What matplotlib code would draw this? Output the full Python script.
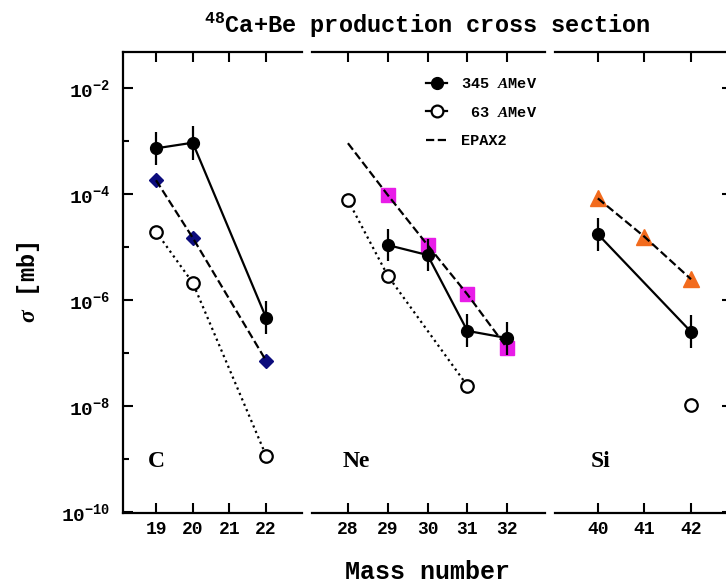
import numpy as np
import matplotlib.pyplot as plt
from matplotlib.lines import Line2D
from matplotlib.ticker import FixedLocator, NullLocator, NullFormatter

plt.rcParams['font.family'] = ['Liberation Mono', 'DejaVu Sans']
plt.rcParams['font.weight'] = 'bold'
plt.rcParams['mathtext.fontset'] = 'custom'
plt.rcParams['mathtext.rm'] = 'Liberation Mono:bold'
plt.rcParams['mathtext.bf'] = 'Liberation Mono:bold'
plt.rcParams['mathtext.it'] = 'Liberation Serif:italic:bold'
plt.rcParams['mathtext.default'] = 'bf'

# --- data (cross sections in mb) ---
# C isotopes
c_mass_345 = [19, 20, 22]
c_345 = [7.2e-4, 9.2e-4, 4.6e-7]
c_345_err = [0.31, 0.32, 0.31]          # error bar half-length in decades
c_mass_63 = [19, 20, 22]
c_63 = [1.93e-5, 2.1e-6, 1.15e-9]
c_mass_epax = [19, 20, 22]
c_epax = [1.8e-4, 1.48e-5, 7.1e-8]

# Ne isotopes
ne_mass_345 = [29, 30, 31, 32]
ne_345 = [1.08e-5, 7.0e-6, 2.6e-7, 1.9e-7]
ne_345_err = [0.31, 0.31, 0.31, 0.31]
ne_mass_63 = [28, 29, 31]
ne_63 = [7.6e-5, 2.86e-6, 2.4e-8]
ne_mass_epax = [28, 29, 30, 31, 32]
ne_epax = [9.0e-4, 9.5e-5, 1.08e-5, 1.27e-6, 1.23e-7]

# Si isotopes
si_mass_345 = [40, 42]
si_345 = [1.73e-5, 2.5e-7]
si_345_err = [0.31, 0.31]
si_mass_63 = [42]
si_63 = [1.05e-8]
si_mass_epax = [40, 41, 42]
si_epax = [8.2e-5, 1.55e-5, 2.45e-6]

panels = [
    dict(name='C', ticks=[19, 20, 21, 22], xlim=(18.1, 22.97), lab_x=19.0,
         m345=c_mass_345, y345=c_345, e345=c_345_err,
         m63=c_mass_63, y63=c_63, mep=c_mass_epax, yep=c_epax, ep_marks=[0, 1, 2],
         marker='D', mcolor='#0c0c7c', msize=7),
    dict(name='Ne', ticks=[28, 29, 30, 31, 32], xlim=(27.09, 32.95), lab_x=28.2,
         m345=ne_mass_345, y345=ne_345, e345=ne_345_err,
         m63=ne_mass_63, y63=ne_63, mep=ne_mass_epax, yep=ne_epax, ep_marks=[1, 2, 3, 4],
         marker='s', mcolor='#e81ce8', msize=9.5),
    dict(name='Si', ticks=[40, 41, 42], xlim=(39.08, 42.88), lab_x=40.05,
         m345=si_mass_345, y345=si_345, e345=si_345_err,
         m63=si_mass_63, y63=si_63, mep=si_mass_epax, yep=si_epax, ep_marks=[0, 1, 2],
         marker='^', mcolor='#f26b1d', msize=11),
]

fig = plt.figure(figsize=(7.26, 5.85), dpi=100)
bottom, height = 1 - 513 / 585, (513 - 51.7) / 585
boxes = [(123 / 726, 178.7 / 726), (311.7 / 726, 233.3 / 726), (555 / 726, 177 / 726)]
axes = [fig.add_axes([l, bottom, w, height]) for l, w in boxes]

for i, (ax, p) in enumerate(zip(axes, panels)):
    ax.set_yscale('log')
    ax.set_ylim(10 ** -10.02, 10 ** -1.32)
    ax.set_xlim(*p['xlim'])

    # EPAX2 markers then dashed line on top
    ep_x = np.array(p['mep'])[p['ep_marks']]
    ep_y = np.array(p['yep'])[p['ep_marks']]
    ax.plot(ep_x, ep_y, ls='none', marker=p['marker'], ms=p['msize'],
            color=p['mcolor'], mec=p['mcolor'], zorder=2)
    ax.plot(p['mep'], p['yep'], ls='--', color='black', lw=1.6, zorder=3)

    # 63 AMeV open circles, dotted line
    ax.plot(p['m63'], p['y63'], ls=':', color='black', lw=1.6, marker='o', ms=9,
            mfc='white', mec='black', mew=1.6, zorder=4)

    # 345 AMeV filled circles with error bars
    y = np.array(p['y345'])
    e = np.array(p['e345'])
    yerr = [y - y * 10 ** (-e), y * 10 ** e - y]
    ax.errorbar(p['m345'], y, yerr=yerr, fmt='-o', color='black', lw=1.6,
                elinewidth=1.6, capsize=0, ms=8.5, zorder=5)

    ax.text(p['lab_x'], 10 ** -9.05, p['name'], ha='center', va='center',
            fontsize=17, fontweight='bold', family='Liberation Serif')

    ax.set_xticks(p['ticks'])
    ax.set_xticklabels([str(t) for t in p['ticks']])
    ax.tick_params(axis='x', which='both', direction='in', top=True, bottom=True,
                   length=7, width=1.5, pad=6, labelsize=13)
    for s in ax.spines.values():
        s.set_linewidth(1.6)
    ax.spines['left'].set_visible(i == 0)
    ax.spines['right'].set_visible(i == 2)
    ax.patch.set_alpha(0)

# y axis on the C panel
ax1, ax2, ax3 = axes
ax1.yaxis.set_major_locator(FixedLocator([1e-10, 1e-8, 1e-6, 1e-4, 1e-2]))
ax1.yaxis.set_minor_locator(FixedLocator([1e-9, 1e-7, 1e-5, 1e-3]))
ax1.yaxis.set_minor_formatter(NullFormatter())
ax1.set_yticklabels([r'$10^{-10}$', r'$10^{-8}$', r'$10^{-6}$', r'$10^{-4}$', r'$10^{-2}$'])
ax1.tick_params(axis='y', which='major', direction='in', left=True, right=False,
                length=7, width=1.5, pad=9, labelsize=14)
ax1.tick_params(axis='y', which='minor', direction='in', left=True, right=False,
                length=4, width=1.5)

ax2.yaxis.set_major_locator(NullLocator())
ax2.yaxis.set_minor_locator(NullLocator())

ax3.yaxis.set_major_locator(FixedLocator([1e-10, 1e-8, 1e-6, 1e-4, 1e-2]))
ax3.yaxis.set_minor_locator(NullLocator())
ax3.tick_params(axis='y', which='major', direction='in', left=False, right=True,
                labelleft=False, labelright=False, length=7, width=1.5)

# legend in the Ne panel
handles = [
    Line2D([], [], color='black', lw=1.6, marker='o', ms=8.5),
    Line2D([], [], color='black', lw=1.6, marker='o', ms=8.5, mfc='white', mew=1.6),
    Line2D([], [], color='black', lw=1.6, ls='--'),
]
labels = [r'345 $\mathit{A}$MeV', r' 63 $\mathit{A}$MeV', 'EPAX2']
ax2.legend(handles, labels, loc='upper left', bbox_to_anchor=(0.49, 0.945),
           frameon=False, fontsize=11, handlelength=1.4, handletextpad=0.9,
           labelspacing=0.95, borderpad=0, borderaxespad=0)

fig.text(0.589, 0.957, r'$^{48}$Ca+Be production cross section', ha='center',
         va='center', fontsize=17, fontweight='bold')
fig.text(0.589, 0.022, 'Mass number', ha='center', va='center',
         fontsize=18, fontweight='bold')
fig.text(0.039, 0.518, r'$\mathit{\sigma}$ [mb]', ha='center', va='center',
         rotation=90, fontsize=17, fontweight='bold')

fig.savefig('out.png', dpi=100)
